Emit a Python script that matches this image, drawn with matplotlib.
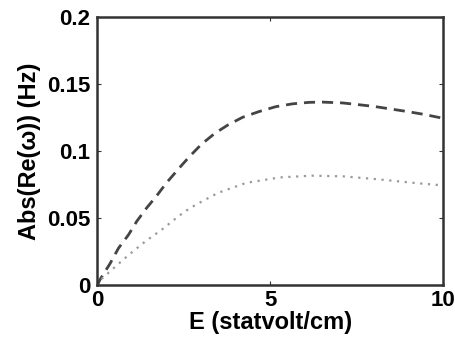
import matplotlib
matplotlib.use('Agg')
import matplotlib.pyplot as plt

# values
e_dash = [0.0, 0.08, 0.37, 0.61, 0.90, 1.14, 1.43, 1.71, 2.0, 2.43, 2.67, 3.01, 3.39,
          3.77, 4.20, 4.68, 5.16, 5.64, 6.12, 6.50, 7.08, 7.51, 7.99, 8.47, 8.95,
          9.43, 10.0]
re_dash = [0.0, 0.0045, 0.0164, 0.0277, 0.0377, 0.0478, 0.0579, 0.0666, 0.0765,
           0.0893, 0.0962, 0.1052, 0.1132, 0.1195, 0.1253, 0.1296, 0.1332, 0.1353,
           0.1364, 0.1366, 0.1360, 0.1348, 0.1334, 0.1315, 0.1296, 0.1275, 0.1245]

e_dot = [0.0, 0.13, 0.51, 0.90, 1.38, 1.86, 2.34, 2.67, 3.05, 3.49, 4.31, 5.28,
         6.20, 7.10, 8.07, 9.04, 10.0]
re_dot = [0.0, 0.005, 0.0138, 0.0226, 0.0327, 0.0415, 0.0515, 0.0575, 0.0630,
          0.0690, 0.0765, 0.0805, 0.0818, 0.0813, 0.0792, 0.0767, 0.0745]

xticks = [0, 5, 10]
yticks = [0, 0.05, 0.1, 0.15, 0.2]
ytick_labels = ['0', '0.05', '0.1', '0.15', '0.2']

plt.rcParams['font.family'] = ['Liberation Sans', 'DejaVu Sans']

fig = plt.figure(figsize=(4.56, 3.41), dpi=100)
ax = fig.add_axes([0.2134, 0.1628, 0.7588, 0.7874])

ax.plot(e_dash, re_dash, color='#444444', linestyle=(0, (4, 2.5)), linewidth=2.0)
ax.plot(e_dot, re_dot, color='#999999', linestyle=(0, (1, 2.5)), linewidth=1.6)

ax.set_xlim(0, 10)
ax.set_ylim(0, 0.2)
ax.set_xticks(xticks)
ax.set_yticks(yticks)
ax.set_yticklabels(ytick_labels)
ax.tick_params(direction='in', top=True, right=True, length=3, width=0.8,
               labelsize=16, colors='#333333', labelcolor='black')
ax.tick_params(axis='x', pad=3)
ax.tick_params(axis='y', pad=5)
for lbl in ax.get_xticklabels() + ax.get_yticklabels():
    lbl.set_fontweight('bold')
for s in ax.spines.values():
    s.set_linewidth(1.8)
    s.set_color('#333333')

ax.set_xlabel('E (statvolt/cm)', fontsize=17, fontweight='bold', labelpad=0)
ax.set_ylabel('Abs(Re(ω)) (Hz)', fontsize=17, fontweight='bold', labelpad=4)

fig.savefig('out.png', dpi=100)
